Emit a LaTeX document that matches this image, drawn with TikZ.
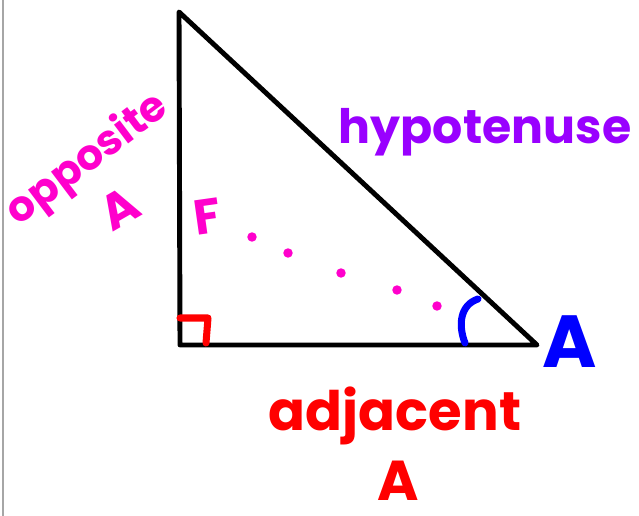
\documentclass[tikz,border=0pt]{standalone}
\usepackage{fontspec}
\setmainfont{Poppins}
\usepackage{xcolor}
\usepackage{tikz}
\usetikzlibrary{arrows.meta,positioning,calc}
\definecolor{oppo}{RGB}{255,0,204}
\definecolor{hypo}{RGB}{153,0,255}
\definecolor{adja}{RGB}{255,0,0}
\definecolor{angl}{RGB}{0,0,255}

\begin{document}
\begin{tikzpicture}[x=0.02cm, y=-0.02cm,
  every node/.style={font=\bfseries, inner sep=0pt},
  side/.style={black, line width=2.8pt, line cap=round, line join=round},
  pen/.style={line width=4pt, line cap=round, line join=round},
  hand/.style={font=\fontsize{#1}{#1}\selectfont\bfseries}]
\useasboundingbox (0,0) rectangle (639,516);
\draw[gray!70, line width=0.8pt] (3,0) -- (3,516);
% the triangle
\coordinate (top) at (179,12);
\coordinate (rgt) at (180,345);
\coordinate (vA) at (537,345);
\draw[side] (top) -- (rgt) -- (vA) -- cycle;
% right angle and angle A
\coordinate (ra1) at (180,318);
\coordinate (ra2) at (208,318);
\coordinate (ra3) at (206,343);
\draw[adja, pen] (ra1) -- (ra2) -- (ra3);
\coordinate (an1) at (478,299);
\coordinate (an2) at (465,343);
\draw[angl, pen] (an1) .. controls (460,305) and (458,325) .. (an2);
\node[angl, hand=42] (labA) at (570,342) {A};
% hypotenuse
\node[hypo, hand=27] (hyp) at (485,132) {hypotenuse};
% opposite
\node[oppo, hand=24, rotate=37] (opp) at (88,160) {opposite};
\node[oppo, hand=28, rotate=30] (oppA) at (120,208) {A};
\node[oppo, hand=28, rotate=8] (eff) at (207,217) {F};
\foreach \px/\py [count=\i] in {252/237, 288/253, 341/273, 397/290, 437/306}
  \fill[oppo] (\px,\py) circle[radius=2.7pt] coordinate (dot\i);
% adjacent
\node[adja, hand=31] (adj) at (395,416) {adjacent};
\node[adja, hand=32] (adjA) at (398,481) {A};
\end{tikzpicture}
\end{document}
